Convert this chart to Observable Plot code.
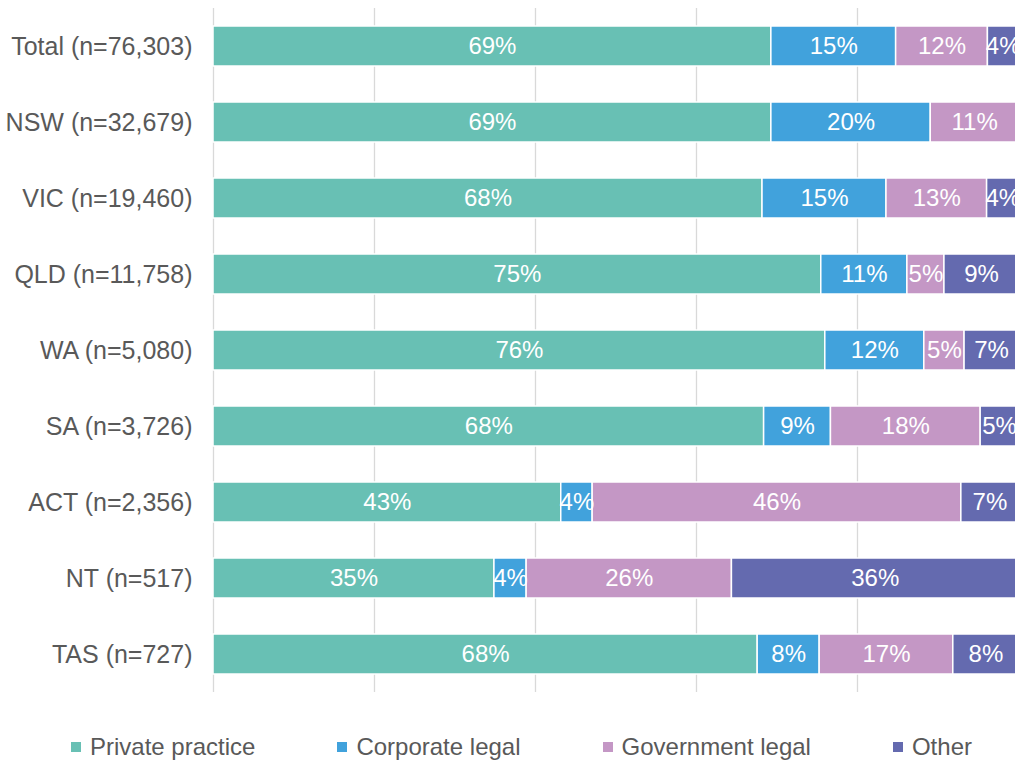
<!DOCTYPE html>
<html>
<head>
<meta charset="utf-8">
<script src="https://cdn.jsdelivr.net/npm/d3@7"></script>
<script src="https://cdn.jsdelivr.net/npm/@observablehq/plot@0.6"></script>
<style>
  html, body { margin: 0; padding: 0; background: #fff; }
  body { width: 1015px; height: 761px; overflow: hidden; font-family: "Liberation Sans", Arial, sans-serif; }
  #legend { display: flex; padding-left: 71px; padding-top: 19px; gap: 82px; font-size: 24px; line-height: 26px; color: #595959; }
  #legend .item { display: flex; align-items: center; gap: 9px; }
  #legend .sw { width: 10px; height: 10px; display: inline-block; }
</style>
</head>
<body>
<div id="chart"></div>
<div id="legend"></div>
<script>
const rows = ["Total (n=76,303)", "NSW (n=32,679)", "VIC (n=19,460)", "QLD (n=11,758)", "WA (n=5,080)", "SA (n=3,726)", "ACT (n=2,356)", "NT (n=517)", "TAS (n=727)"];
const categories = ["Private practice", "Corporate legal", "Government legal", "Other"];
const colors = ["#68c0b4", "#41a2dc", "#c497c5", "#646aaf"];
// values (percent)
const privatePractice = [69.3, 69.3, 68.2, 75.5, 76.0, 68.4, 43.2, 34.9, 67.6];
const corporateLegal  = [15.5, 19.8, 15.4, 10.7, 12.3, 8.3, 3.9, 4.0, 7.7];
const governmentLegal = [11.4, 10.9, 12.5, 4.6, 5.0, 18.6, 45.8, 25.5, 16.6];
const other           = [3.8, 0, 3.9, 9.2, 6.7, 4.7, 7.1, 35.6, 8.1];
// printed labels
const privateLabels    = [69, 69, 68, 75, 76, 68, 43, 35, 68];
const corporateLabels  = [15, 20, 15, 11, 12, 9, 4, 4, 8];
const governmentLabels = [12, 11, 13, 5, 5, 18, 46, 26, 17];
const otherLabels      = [4, null, 4, 9, 7, 5, 7, 36, 8];
const gridTicks = [0, 20, 40, 60, 80];

const series = [privatePractice, corporateLegal, governmentLegal, other];
const labels = [privateLabels, corporateLabels, governmentLabels, otherLabels];
const data = rows.flatMap((r, i) => categories.map((c, j) => ({
  row: r, cat: c, value: series[j][i], label: labels[j][i] == null ? "" : labels[j][i] + "%"
})));

const chart = Plot.plot({
  width: 1015,
  height: 715,
  marginTop: 8,
  marginBottom: 23,
  marginLeft: 213,
  marginRight: 0,
  style: { fontFamily: "'Liberation Sans', Arial, sans-serif", fontSize: "24px", overflow: "visible" },
  x: { domain: [0, 100 * 802 / 805], axis: null },
  y: { domain: rows, paddingInner: 0.474, paddingOuter: 0.237, label: null },
  color: { domain: categories, range: colors },
  marks: [
    Plot.gridX(gridTicks, { stroke: "#d9d9d9", strokeOpacity: 1, strokeWidth: 1.3 }),
    Plot.barX(data, Plot.stackX({ x: "value", y: "row", fill: "cat", stroke: "white", strokeWidth: 1.5 })),
    Plot.text(data, Plot.stackX({ x: "value", y: "row", z: "cat", text: "label", fill: "white", fontSize: 24 })),
    Plot.axisY({ tickSize: 0, tickPadding: 21, fontSize: 25, color: "#595959", label: null })
  ]
});
document.getElementById("chart").appendChild(chart);

const legend = document.getElementById("legend");
categories.forEach((c, i) => {
  const it = document.createElement("div");
  it.className = "item";
  const sw = document.createElement("span");
  sw.className = "sw";
  sw.style.background = colors[i];
  const t = document.createElement("span");
  t.textContent = c;
  it.appendChild(sw); it.appendChild(t);
  legend.appendChild(it);
});
</script>
</body>
</html>
